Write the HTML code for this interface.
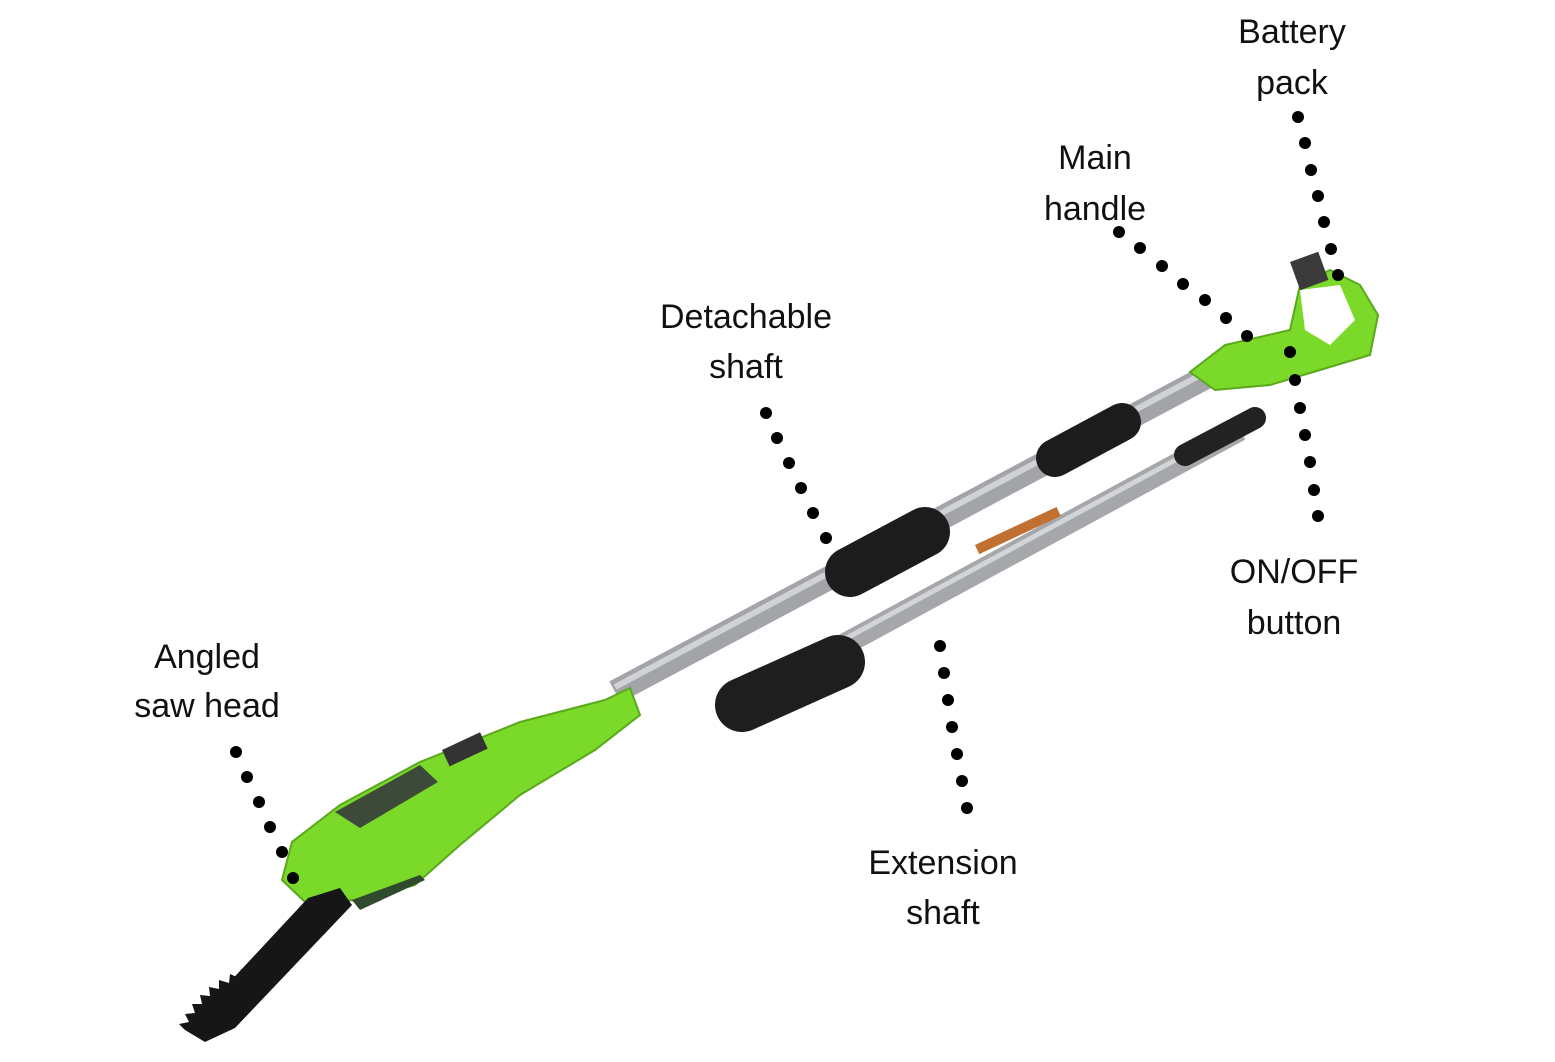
<!DOCTYPE html>
<html><head><meta charset="utf-8"><style>
html,body{margin:0;padding:0;background:#fff;}
svg{display:block;}
text{font-family:"Liberation Sans",sans-serif;font-size:34px;fill:#111;text-anchor:middle;}
</style></head><body>
<svg width="1555" height="1062" viewBox="0 0 1555 1062" xmlns="http://www.w3.org/2000/svg">
<!-- main shaft -->
<line x1="615" y1="692" x2="1210" y2="375" stroke="#a2a4a9" stroke-width="24"/>
<line x1="615" y1="687" x2="1210" y2="370" stroke="#d0d2d5" stroke-width="6"/>
<!-- grips main -->
<line x1="1055" y1="458" x2="1122" y2="422" stroke="#1c1c1c" stroke-width="38" stroke-linecap="round"/>
<line x1="850" y1="572" x2="925" y2="532" stroke="#1c1c1c" stroke-width="50" stroke-linecap="round"/>
<!-- extension shaft -->
<line x1="760" y1="690" x2="1240" y2="430" stroke="#a5a7ab" stroke-width="22"/>
<line x1="760" y1="685" x2="1240" y2="425" stroke="#d2d4d7" stroke-width="5"/>
<line x1="1185" y1="455" x2="1255" y2="418" stroke="#222" stroke-width="22" stroke-linecap="round"/>
<line x1="742" y1="705" x2="838" y2="662" stroke="#1e1e1e" stroke-width="54" stroke-linecap="round"/>
<rect x="975" y="545" width="90" height="10" fill="#c07030" transform="rotate(-25 975 545)"/>
<!-- handle -->
<path d="M1190,372 L1225,345 L1290,330 L1300,285 L1330,270 L1360,285 L1378,315 L1370,355 L1320,370 L1270,385 L1215,390 Z" fill="#7bd92a" stroke="#5aa81c" stroke-width="2"/>
<path d="M1300,290 L1340,285 L1355,320 L1330,345 L1305,330 Z" fill="#fff"/>
<rect x="1290" y="262" width="30" height="30" fill="#3a3a3a" transform="rotate(-20 1290 262)"/>
<!-- saw head body -->
<path d="M605,700 L630,688 L640,715 L595,750 L520,795 L460,845 L415,885 L360,900 L305,902 L282,880 L292,842 L340,805 L420,762 L520,722 Z" fill="#7bd92a" stroke="#5aa81c" stroke-width="2"/>
<path d="M335,812 L420,765 L438,782 L360,828 Z" fill="#3d4a3a"/>
<rect x="442" y="750" width="42" height="18" fill="#333" transform="rotate(-25 442 750)"/>
<!-- chain bar -->
<path d="M308,898 L340,888 L352,905 L235,1028 L205,1042 L185,1030 Z" fill="#161616"/>
<path d="M185,1030 l-6,-6 l10,-2 l-4,-8 l10,-1 l-3,-9 l10,0 l-2,-9 l10,1 l-1,-9 l10,2 l0,-9 l10,3 l1,-9 l9,4 l2,-9 l9,5 l3,-9 l8,6 l3,-9 l8,6 l4,-9 l8,7 Z" fill="#161616"/>
<path d="M352,900 L420,875 L425,880 L360,910 Z" fill="#2f4a2c"/>
<!-- dots -->
<g fill="#000">
<circle cx="1298" cy="117" r="6"/><circle cx="1305" cy="143" r="6"/><circle cx="1311" cy="170" r="6"/><circle cx="1318" cy="196" r="6"/><circle cx="1324" cy="222" r="6"/><circle cx="1331" cy="249" r="6"/><circle cx="1338" cy="275" r="6"/>
<circle cx="1119" cy="232" r="6"/><circle cx="1140" cy="248" r="6"/><circle cx="1162" cy="266" r="6"/><circle cx="1183" cy="284" r="6"/><circle cx="1205" cy="300" r="6"/><circle cx="1226" cy="318" r="6"/><circle cx="1247" cy="336" r="6"/>
<circle cx="1290" cy="352" r="6"/><circle cx="1295" cy="380" r="6"/><circle cx="1300" cy="408" r="6"/><circle cx="1305" cy="435" r="6"/><circle cx="1310" cy="462" r="6"/><circle cx="1314" cy="490" r="6"/><circle cx="1318" cy="516" r="6"/>
<circle cx="766" cy="413" r="6"/><circle cx="777" cy="438" r="6"/><circle cx="789" cy="463" r="6"/><circle cx="801" cy="488" r="6"/><circle cx="813" cy="513" r="6"/><circle cx="826" cy="538" r="6"/>
<circle cx="940" cy="646" r="6"/><circle cx="944" cy="673" r="6"/><circle cx="948" cy="700" r="6"/><circle cx="952" cy="727" r="6"/><circle cx="957" cy="754" r="6"/><circle cx="962" cy="781" r="6"/><circle cx="967" cy="808" r="6"/>
<circle cx="236" cy="752" r="6"/><circle cx="247" cy="777" r="6"/><circle cx="259" cy="802" r="6"/><circle cx="270" cy="827" r="6"/><circle cx="282" cy="852" r="6"/><circle cx="293" cy="878" r="6"/>
</g>
<!-- labels -->
<text x="1292" y="43">Battery</text><text x="1292" y="94">pack</text>
<text x="1095" y="169">Main</text><text x="1095" y="220">handle</text>
<text x="746" y="328">Detachable</text><text x="746" y="378">shaft</text>
<text x="1294" y="583">ON/OFF</text><text x="1294" y="634">button</text>
<text x="943" y="874">Extension</text><text x="943" y="924">shaft</text>
<text x="207" y="668">Angled</text><text x="207" y="717">saw head</text>
</svg>
</body></html>
